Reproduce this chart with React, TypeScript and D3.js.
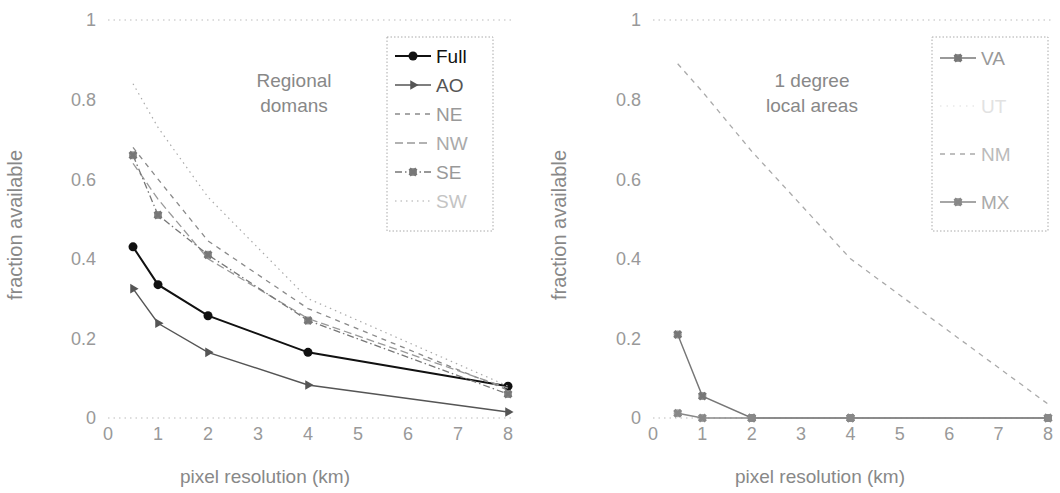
import * as d3 from "d3";
import React from "react";

// Datos (fracción disponible vs resolución del píxel)
const resolutions = [0.5, 1, 2, 4, 8];
const xTicks = [0, 1, 2, 3, 4, 5, 6, 7, 8];
const yTicks = [0, 0.2, 0.4, 0.6, 0.8, 1];
const yTickLabels = ["0", "0.2", "0.4", "0.6", "0.8", "1"];

const regionalNames = ["Full", "AO", "NE", "NW", "SE", "SW"];
const fullVals = [0.43, 0.335, 0.257, 0.165, 0.08];
const aoVals = [0.325, 0.238, 0.165, 0.083, 0.015];
const neVals = [0.68, 0.6, 0.445, 0.275, 0.07];
const nwVals = [0.64, 0.55, 0.4, 0.25, 0.075];
const seVals = [0.66, 0.51, 0.41, 0.245, 0.06];
const swVals = [0.84, 0.73, 0.555, 0.3, 0.08];

const localNames = ["VA", "UT", "NM", "MX"];
const vaVals = [0.21, 0.055, 0, 0, 0];
const utVals: number[] = [];
const nmVals = [0.89, 0.82, 0.67, 0.4, 0.035];
const mxVals = [0.012, 0, 0, 0, 0];

type Style = {
  color: string;
  width: number;
  dash?: string;
  marker?: "dot" | "tri" | "star" | "none";
  textColor: string;
};

const regionalStyles: Style[] = [
  { color: "#111", width: 2, marker: "dot", textColor: "#111" },
  { color: "#555", width: 1.4, marker: "tri", textColor: "#555" },
  { color: "#8a8a8a", width: 1.3, dash: "5,5", marker: "none", textColor: "#999" },
  { color: "#999", width: 1.3, dash: "8,4", marker: "none", textColor: "#aaa" },
  { color: "#777", width: 1.3, dash: "7,3,1.5,3", marker: "star", textColor: "#999" },
  { color: "#aaa", width: 1.2, dash: "1.5,4", marker: "none", textColor: "#c4c4c4" },
];

const localStyles: Style[] = [
  { color: "#777", width: 1.4, marker: "star", textColor: "#999" },
  { color: "#ddd", width: 1.2, dash: "1.5,5", marker: "none", textColor: "#e2e2e2" },
  { color: "#aaa", width: 1.3, dash: "5,5", marker: "none", textColor: "#bbb" },
  { color: "#888", width: 1.4, marker: "star", textColor: "#aaa" },
];

const font = "'Liberation Sans', Arial, sans-serif";

function Marker({ kind, x, y, color }: { kind?: string; x: number; y: number; color: string }) {
  if (kind === "dot") return <circle cx={x} cy={y} r={4.5} fill={color} />;
  if (kind === "tri") {
    const p = d3.symbol().type(d3.symbolTriangle).size(40)();
    return <path d={p || ""} transform={`translate(${x},${y}) rotate(-30)`} fill={color} />;
  }
  if (kind === "star") {
    return (
      <g>
        <circle cx={x} cy={y} r={4} fill={color} opacity={0.8} />
        <path d={d3.symbol().type(d3.symbolCross).size(50)() || ""} transform={`translate(${x},${y}) rotate(45)`} fill={color} />
      </g>
    );
  }
  return null;
}

function Panel(props: {
  x0: number;
  x1: number;
  series: number[][];
  names: string[];
  styles: Style[];
  note: string[];
  noteX: number;
  legend: { x: number; y: number; w: number; h: number; rows: number[] };
  yTitleX: number;
  xTitleX: number;
}) {
  const { x0, x1, series, names, styles, note, noteX, legend, yTitleX, xTitleX } = props;
  const x = d3.scaleLinear().domain([0, 8]).range([x0, x1]);
  const y = d3.scaleLinear().domain([0, 1]).range([418, 20]);
  const line = d3
    .line<number>()
    .x((_, i) => x(resolutions[i]))
    .y((d) => y(d));

  return (
    <g fontFamily={font}>
      {/* marco punteado arriba y abajo */}
      <line x1={x0} x2={x1 + 6} y1={y(1)} y2={y(1)} stroke="#bbb" strokeDasharray="1.5,4" />
      <line x1={x0} x2={x1 + 6} y1={y(0)} y2={y(0)} stroke="#bbb" strokeDasharray="1.5,4" />

      {yTicks.map((t, i) => (
        <text key={t} x={x0 - 12} y={y(t)} dy="0.35em" textAnchor="end" fontSize={18} fill="#999">
          {yTickLabels[i]}
        </text>
      ))}
      {xTicks.map((t) => (
        <text key={t} x={x(t)} y={440} textAnchor="middle" fontSize={18} fill="#999">
          {t}
        </text>
      ))}

      <text transform={`translate(${yTitleX},225) rotate(-90)`} textAnchor="middle" fontSize={20} fill="#888">
        fraction available
      </text>
      <text x={xTitleX} y={483} fontSize={19} fill="#888">
        pixel resolution (km)
      </text>

      {note.map((s, i) => (
        <text key={s} x={noteX} y={80 + i * 25} dy="0.35em" textAnchor="middle" fontSize={19} fill="#888">
          {s}
        </text>
      ))}

      {series.map((vals, k) =>
        vals.length ? (
          <g key={names[k]}>
            <path
              d={line(vals) || ""}
              fill="none"
              stroke={styles[k].color}
              strokeWidth={styles[k].width}
              strokeDasharray={styles[k].dash}
            />
            {vals.map((v, i) => (
              <Marker key={i} kind={styles[k].marker} x={x(resolutions[i])} y={y(v)} color={styles[k].color} />
            ))}
          </g>
        ) : null
      )}

      <rect x={legend.x} y={legend.y} width={legend.w} height={legend.h} fill="#fff" stroke="#aaa" strokeDasharray="1.5,2" />
      {names.map((n, k) => (
        <g key={n}>
          <line
            x1={legend.x + 8}
            x2={legend.x + 44}
            y1={legend.rows[k]}
            y2={legend.rows[k]}
            stroke={styles[k].color}
            strokeWidth={styles[k].width}
            strokeDasharray={styles[k].dash}
          />
          <Marker kind={styles[k].marker} x={legend.x + 26} y={legend.rows[k]} color={styles[k].color} />
          <text x={legend.x + 49} y={legend.rows[k]} dy="0.35em" fontSize={19} fill={styles[k].textColor}>
            {n}
          </text>
        </g>
      ))}
    </g>
  );
}

export default function App() {
  return (
    <svg width={1060} height={493} style={{ position: "absolute", left: 0, top: 0, background: "#fff" }}>
      <Panel
        x0={108}
        x1={508}
        series={[fullVals, aoVals, neVals, nwVals, seVals, swVals]}
        names={regionalNames}
        styles={regionalStyles}
        note={["Regional", "domans"]}
        noteX={294}
        legend={{ x: 387, y: 37, w: 106, h: 194, rows: [56, 85, 114, 143, 172, 201] }}
        yTitleX={22}
        xTitleX={180}
      />
      <Panel
        x0={653}
        x1={1048}
        series={[vaVals, utVals, nmVals, mxVals]}
        names={localNames}
        styles={localStyles}
        note={["1 degree", "local areas"]}
        noteX={812}
        legend={{ x: 932, y: 37, w: 116, h: 194, rows: [58, 106, 154, 202] }}
        yTitleX={566}
        xTitleX={735}
      />
    </svg>
  );
}
